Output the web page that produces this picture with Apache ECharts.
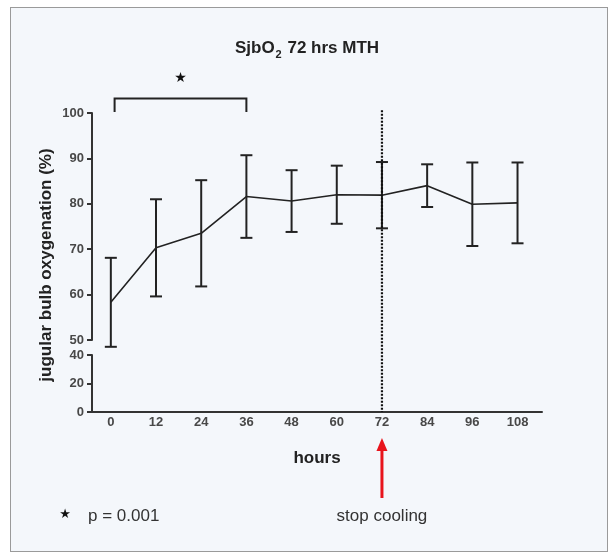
<!DOCTYPE html>
<html>
<head>
<meta charset="utf-8">
<script src="https://cdn.jsdelivr.net/npm/echarts@6/dist/echarts.min.js"></script>
<style>
  html, body { margin: 0; padding: 0; background: #ffffff; }
  #frame { position: absolute; left: 10px; top: 7px; width: 596px; height: 543px;
           border: 1px solid #9a9a9a; background: #f4f7fb; }
  #chart { position: absolute; left: 0; top: 0; width: 614px; height: 557px; }
</style>
</head>
<body>
<div id="frame"></div>
<div id="chart"></div>
<script>
// Jugular bulb oxygen saturation (mean ± SD) during 72 h of mild hypothermia
const hours = [0, 12, 24, 36, 48, 60, 72, 84, 96, 108];
const meanSjbO2 = [58.3, 70.3, 73.5, 81.6, 80.6, 82.0, 81.9, 84.0, 79.9, 80.2];
const sdSjbO2 = [9.8, 10.7, 11.7, 9.1, 6.8, 6.4, 7.3, 4.7, 9.2, 8.9];
const upperTicks = [50, 60, 70, 80, 90, 100];
const lowerTicks = [0, 20, 40];
const stopCoolingHour = 72;
const significantSpan = [1, 36];

const FONT = '"Liberation Sans", Arial, sans-serif';
const INK = '#222';

const chart = echarts.init(document.getElementById('chart'), null, { renderer: 'canvas' });

const axisLine = { show: true, onZero: false, lineStyle: { color: '#333', width: 2 } };
const yLabel = { color: '#484848', fontSize: 13, fontWeight: 'bold', fontFamily: FONT, margin: 8 };

chart.setOption({
  backgroundColor: 'transparent',
  animation: false,
  title: {
    text: '{a|SjbO}{s|2}{a| 72 hrs MTH}',
    left: 'center', top: 35,
    textStyle: {
      rich: {
        a: { fontSize: 17, fontWeight: 'bold', fontFamily: FONT, color: INK, lineHeight: 20, verticalAlign: 'top' },
        s: { fontSize: 11, fontWeight: 'bold', fontFamily: FONT, color: INK, lineHeight: 12, padding: [9, 1, 0, 1], verticalAlign: 'top' }
      }
    }
  },
  grid: [
    { left: 92, right: 72, top: 113, bottom: 217 },
    { left: 92, right: 72, top: 355, bottom: 145 }
  ],
  xAxis: [
    { gridIndex: 0, type: 'value', min: -5, max: 114.5, show: false },
    {
      gridIndex: 1, type: 'value', min: -5, max: 114.5,
      axisLine: axisLine, axisTick: { show: false }, splitLine: { show: false },
      axisLabel: { customValues: hours, color: '#484848', fontSize: 13, fontWeight: 'bold', fontFamily: FONT, margin: 4 },
      name: 'hours', nameLocation: 'middle', nameGap: 38,
      nameTextStyle: { fontSize: 17, fontWeight: 'bold', fontFamily: FONT, color: INK }
    }
  ],
  yAxis: [
    {
      gridIndex: 0, type: 'value', min: 50, max: 100, interval: 10,
      axisLine: axisLine, splitLine: { show: false },
      axisTick: { show: true, length: 5, lineStyle: { color: '#333', width: 2 }, customValues: upperTicks },
      axisLabel: Object.assign({ customValues: upperTicks }, yLabel)
    },
    {
      gridIndex: 1, type: 'value', min: 0, max: 40, interval: 20,
      axisLine: axisLine, splitLine: { show: false },
      axisTick: { show: true, length: 5, lineStyle: { color: '#333', width: 2 }, customValues: lowerTicks },
      axisLabel: Object.assign({ customValues: lowerTicks }, yLabel)
    }
  ],
  series: [
    {
      type: 'line', xAxisIndex: 0, yAxisIndex: 0,
      data: hours.map((h, i) => [h, meanSjbO2[i]]),
      symbol: 'none', lineStyle: { color: INK, width: 1.6 }, z: 3
    },
    {
      type: 'custom', xAxisIndex: 0, yAxisIndex: 0, clip: false, z: 4,
      data: hours.map((h, i) => [h, meanSjbO2[i], sdSjbO2[i]]),
      renderItem: function (params, api) {
        const x = api.value(0), m = api.value(1), s = api.value(2);
        const top = api.coord([x, m + s]);
        const bot = api.coord([x, m - s]);
        const hw = 6;
        const st = { stroke: INK, lineWidth: 2 };
        return {
          type: 'group',
          children: [
            { type: 'line', shape: { x1: top[0], y1: top[1], x2: bot[0], y2: bot[1] }, style: st },
            { type: 'line', shape: { x1: top[0] - hw, y1: top[1], x2: top[0] + hw, y2: top[1] }, style: st },
            { type: 'line', shape: { x1: bot[0] - hw, y1: bot[1], x2: bot[0] + hw, y2: bot[1] }, style: st }
          ]
        };
      }
    }
  ]
});

// Annotations placed through the axes' own scales
const up = (x, y) => chart.convertToPixel({ gridIndex: 0 }, [x, y]);
const lo = (x, y) => chart.convertToPixel({ gridIndex: 1 }, [x, y]);

const vTop = up(stopCoolingHour, 100.6);
const vBot = lo(stopCoolingHour, 0);
const bL = up(significantSpan[0], 103.2), bLd = up(significantSpan[0], 100.2);
const bR = up(significantSpan[1], 103.2), bRd = up(significantSpan[1], 100.2);
const starPt = up((significantSpan[0] + significantSpan[1]) / 2, 107.6);
const ax = vBot[0];

chart.setOption({
  graphic: [
    { type: 'line', shape: { x1: vTop[0], y1: vTop[1], x2: vBot[0], y2: vBot[1] },
      style: { stroke: '#111', lineWidth: 2.2, lineDash: [2, 1.5] }, z: 5 },
    { type: 'polyline', shape: { points: [bLd, bL, bR, bRd] },
      style: { stroke: INK, lineWidth: 2, fill: null }, z: 5 },
    { type: 'text', x: starPt[0], y: starPt[1],
      style: { text: '★', fontSize: 14, fill: '#111', align: 'center', verticalAlign: 'middle', fontFamily: '"DejaVu Sans"' } },
    { type: 'line', shape: { x1: ax, y1: 448, x2: ax, y2: 498 },
      style: { stroke: '#e8141c', lineWidth: 3 } },
    { type: 'polygon', shape: { points: [[ax, 438], [ax - 5.5, 451], [ax + 5.5, 451]] },
      style: { fill: '#e8141c' } },
    { type: 'text', x: ax, y: 516,
      style: { text: 'stop cooling', fontSize: 17, fill: '#333', align: 'center', verticalAlign: 'middle', fontFamily: FONT } },
    { type: 'text', x: 65, y: 515,
      style: { text: '★', fontSize: 13, fill: '#111', align: 'center', verticalAlign: 'middle', fontFamily: '"DejaVu Sans"' } },
    { type: 'text', x: 88, y: 516,
      style: { text: 'p = 0.001', fontSize: 17, fill: '#333', align: 'left', verticalAlign: 'middle', fontFamily: FONT } },
    { type: 'text', x: 46, y: 265, rotation: Math.PI / 2,
      style: { text: 'jugular bulb oxygenation (%)', fontSize: 17, fontWeight: 'bold', fill: INK,
               align: 'center', verticalAlign: 'middle', fontFamily: FONT } }
  ]
});
</script>
</body>
</html>
